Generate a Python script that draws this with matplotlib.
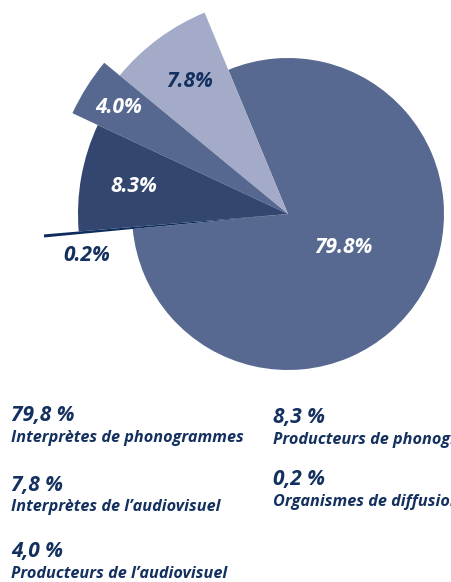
import numpy as np
import matplotlib
matplotlib.use("Agg")
import matplotlib.pyplot as plt

# shares, in the order the slices are drawn (counter-clockwise)
values = [79.8, 7.8, 4.0, 8.3, 0.2]
names = ["Interprètes de phonogrammes", "Interprètes de l’audiovisuel",
         "Producteurs de l’audiovisuel", "Producteurs de phonogrammes",
         "Organismes de diffusion"]

# styling
colors = ["#576990", "#a3abc8", "#56688f", "#324670", "#0f2d5c"]
radii = [156, 218, 238, 210, 245]          # each slice has its own radius (px)
label_r = [65, 165, 200, 157, 205]
label_shift = [0, 0, 0, 0, 6.5]            # degrees, nudges the tiny slice label below it
label_col = ["white", "#13305f", "white", "white", "#13305f"]
navy = "#13305f"
W, H = 451, 582
center = (288, H - 214)

plt.rcParams["font.family"] = ["Open Sans", "DejaVu Sans"]

fig = plt.figure(figsize=(W / 100, H / 100), dpi=100)
ax = fig.add_axes([0, 0, 1, 1])

wedges, _ = ax.pie(values, colors=colors, startangle=-174.5, counterclock=True,
                   center=center, radius=1, wedgeprops=dict(linewidth=0))
for w, r in zip(wedges, radii):
    w.set_radius(r)

for w, v, lr, sh, c in zip(wedges, values, label_r, label_shift, label_col):
    mid = np.deg2rad((w.theta1 + w.theta2) / 2 + sh)
    x = center[0] + lr * np.cos(mid)
    y = center[1] + lr * np.sin(mid)
    ax.text(x, y, f"{v:.1f}%", color=c, fontsize=15, fontweight="bold",
            fontstyle="italic", ha="center", va="center")

ax.set_xlim(0, W)
ax.set_ylim(0, H)
ax.set_aspect("equal")
ax.axis("off")

# legend block under the pie, filled column by column
leg_x = [11, 11, 11, 273, 273]
leg_y = [416, 485, 552, 418, 480]
for i, (v, n) in enumerate(zip(values, names)):
    ax.text(leg_x[i], H - leg_y[i], f"{v:.1f} %".replace(".", ","), color=navy,
            fontsize=15, fontweight="bold", fontstyle="italic", ha="left", va="center")
    ax.text(leg_x[i], H - leg_y[i] - 22, n, color=navy, fontsize=11.7,
            fontweight="bold", fontstyle="italic", ha="left", va="center")

fig.savefig("out.png", dpi=100)
